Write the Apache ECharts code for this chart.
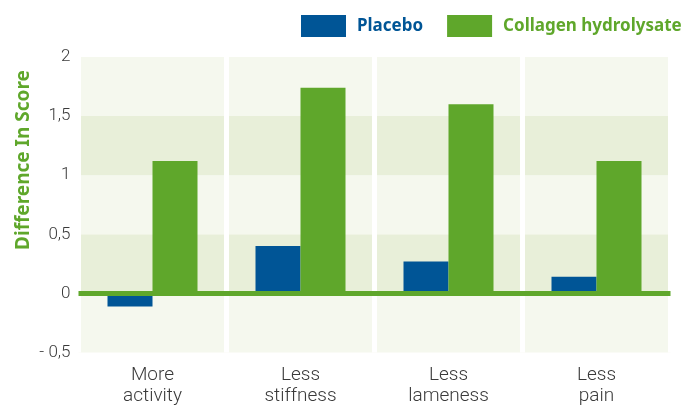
<!DOCTYPE html>
<html>
<head>
<meta charset="utf-8">
<script src="https://cdn.jsdelivr.net/npm/echarts@6/dist/echarts.min.js"></script>
<style>
html,body{margin:0;padding:0;background:#fff;}
#chart{width:697px;height:408px;}
</style>
</head>
<body>
<div id="chart"></div>
<script>
const categories = ['More\nactivity', 'Less\nstiffness', 'Less\nlameness', 'Less\npain'];
const placebo = [-0.11, 0.40, 0.27, 0.14];
const collagen = [1.12, 1.74, 1.60, 1.12];
const yTickValues = [-0.5, 0, 0.5, 1, 1.5, 2];
const yTickLabels = ['- 0,5', '0', '0,5', '1', '1,5', '2'];
const seriesNames = ['Placebo', 'Collagen hydrolysate'];
const yAxisTitle = 'Difference In Score';

const BLUE = '#005596';
const GREEN = '#5fa72b';
const FONT = 'Roboto';

const chart = echarts.init(document.getElementById('chart'), null, {renderer: 'canvas'});
chart.setOption({
  animation: false,
  backgroundColor: '#ffffff',
  grid: {left: 78.5, right: 26.5, top: 57, bottom: 55.5, containLabel: false},
  legend: {
    left: 301, top: 15, padding: 0,
    itemWidth: 45, itemHeight: 22, itemGap: 24,
    icon: 'rect',
    data: [
      {name: seriesNames[0], textStyle: {color: BLUE}},
      {name: seriesNames[1], textStyle: {color: GREEN}}
    ],
    textStyle: {fontFamily: 'Noto Sans', fontWeight: 'bold', fontSize: 17, padding: [0, 0, 0, 6]}
  },
  graphic: [{
    type: 'text', x: 23.5, y: 160, rotation: Math.PI / 2,
    style: {
      text: yAxisTitle, fill: GREEN, align: 'center', verticalAlign: 'middle',
      font: 'bold 19px "Noto Sans"'
    }
  }],
  xAxis: {
    type: 'category',
    data: categories,
    axisLine: {show: false},
    axisTick: {show: false},
    axisLabel: {
      color: '#3a3a3a', fontFamily: FONT, fontWeight: 300, fontSize: 19, lineHeight: 21, margin: 12
    },
    splitLine: {show: true, lineStyle: {color: '#ffffff', width: 5}}
  },
  yAxis: {
    type: 'value', min: -0.5, max: 2, interval: 0.5,
    axisLine: {show: false}, axisTick: {show: false},
    splitLine: {show: false},
    splitArea: {show: true, areaStyle: {color: ['#f5f8ee', '#e8efd9']}},
    axisLabel: {
      color: '#3a3a3a', fontFamily: FONT, fontWeight: 300, fontSize: 17, margin: 8,
      padding: [0, 0, 11, 0],
      formatter: function (v) {
        const i = yTickValues.findIndex(t => Math.abs(t - v) < 1e-9);
        return i >= 0 ? yTickLabels[i] : '';
      }
    }
  },
  series: [
    {
      name: seriesNames[0], type: 'bar', data: placebo, barWidth: 45, barGap: '0%',
      itemStyle: {color: BLUE}
    },
    {
      name: seriesNames[1], type: 'bar', data: collagen, barWidth: 45, barGap: '0%',
      itemStyle: {color: GREEN},
      markLine: {
        silent: true, symbol: ['none', 'none'], label: {show: false},
        lineStyle: {color: GREEN, width: 5, type: 'solid'},
        data: [{yAxis: 0}], z: 10
      }
    }
  ]
});
</script>
</body>
</html>
